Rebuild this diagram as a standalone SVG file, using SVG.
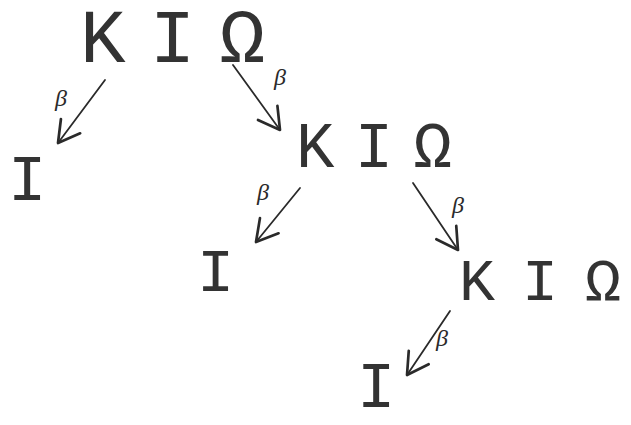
<svg xmlns="http://www.w3.org/2000/svg" width="631" height="425" viewBox="0 0 631 425">
<defs>
<style>
.node{font-family:"Liberation Mono","DejaVu Sans Mono",monospace;fill:#333333;}
.lbl{font-family:"Liberation Serif","DejaVu Serif",serif;font-style:italic;fill:#2a2a2a;font-size:24px;}
.edge{stroke:#2a2a2a;stroke-width:1.8;fill:none;stroke-linecap:round;}
</style>
<marker id="ah" markerUnits="userSpaceOnUse" markerWidth="30" markerHeight="30" refX="0" refY="0" viewBox="-16 -10 20 20" orient="auto">
<path d="M -14 -8 L 0 0 L -14 8" fill="none" stroke="#2a2a2a" stroke-width="1.8" stroke-linecap="round" stroke-linejoin="round"/>
</marker>
</defs>
<rect width="631" height="425" fill="#ffffff"/>
<g id="connectors">
<line class="edge" x1="105" y1="80" x2="58" y2="143" marker-end="url(#ah)"/>
<line class="edge" x1="233" y1="65" x2="280" y2="130" marker-end="url(#ah)"/>
<line class="edge" x1="300" y1="188" x2="256" y2="242" marker-end="url(#ah)"/>
<line class="edge" x1="413" y1="183" x2="458" y2="250" marker-end="url(#ah)"/>
<line class="edge" x1="450" y1="311" x2="407" y2="375" marker-end="url(#ah)"/>
<text class="lbl" x="55" y="106">β</text>
<text class="lbl" x="274" y="85">β</text>
<text class="lbl" x="257" y="200">β</text>
<text class="lbl" x="452" y="213">β</text>
<text class="lbl" x="436" y="346">β</text>
</g>
<g id="node1"><text class="node" x="80" y="62" font-size="76" textLength="185" lengthAdjust="spacing">KIΩ</text></g>
<g id="node2"><text class="node" x="296" y="167" font-size="64" textLength="156" lengthAdjust="spacing">KIΩ</text></g>
<g id="node3"><text class="node" x="459" y="300" font-size="60" textLength="162" lengthAdjust="spacing">KIΩ</text></g>
<g id="leaf1"><text class="node" x="8" y="200" font-size="64">I</text></g>
<g id="leaf2"><text class="node" x="197" y="291" font-size="62">I</text></g>
<g id="leaf3"><text class="node" x="357" y="407" font-size="64">I</text></g>
</svg>
